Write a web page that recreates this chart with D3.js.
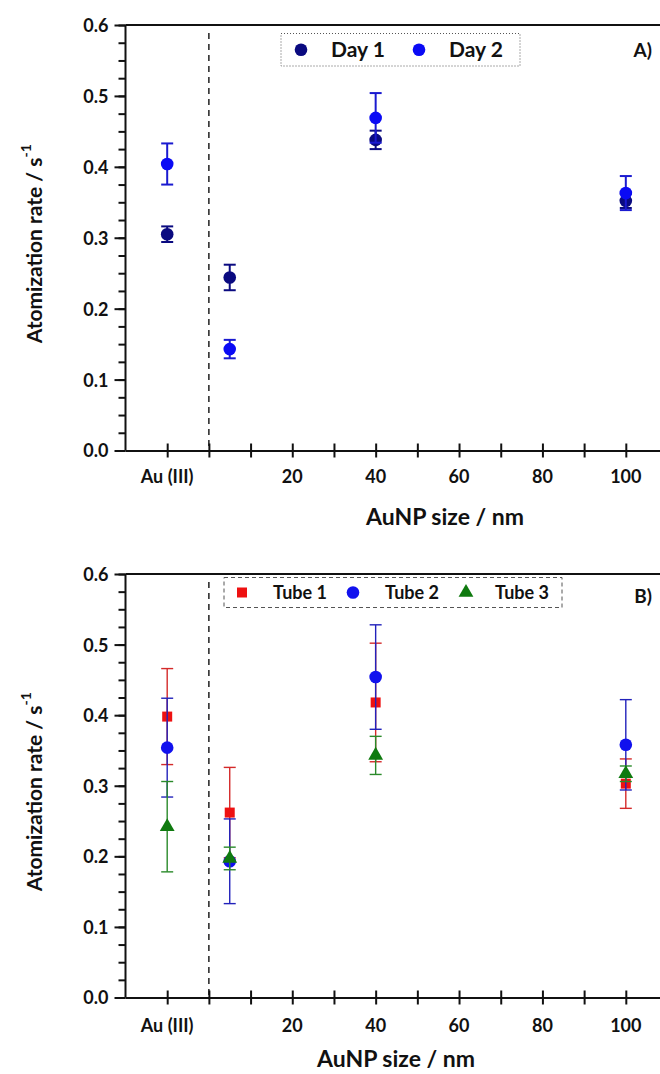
<!DOCTYPE html>
<html>
<head>
<meta charset="utf-8">
<script src="https://cdn.jsdelivr.net/npm/d3@7"></script>
<style>
  body { margin: 0; background: #fff; }
  svg text { font-family: Lato, "Open Sans", sans-serif; font-weight: bold; fill: #111; }
</style>
</head>
<body>
<svg id="chart" width="660" height="1074"></svg>
<script>
// x positions of the samples (Au (III) sits on the -10 slot left of the dashed line)
const sampleX = [-10, 5, 40, 100];

// Panel A: two days
const day1Rate = [0.305, 0.244, 0.438, 0.352];
const day1Err = [0.011, 0.018, 0.013, 0.010];
const day2Rate = [0.404, 0.143, 0.469, 0.363];
const day2Err = [0.029, 0.013, 0.035, 0.024];

// Panel B: three tubes
const tube1Rate = [0.398, 0.262, 0.418, 0.303];
const tube1Err = [0.068, 0.064, 0.084, 0.035];
const tube2Rate = [0.354, 0.193, 0.454, 0.358];
const tube2Err = [0.070, 0.060, 0.074, 0.064];
const tube3Rate = [0.242, 0.197, 0.343, 0.317];
const tube3Err = [0.064, 0.016, 0.027, 0.011];

// axis ticks
const xTickValues = [-10, 20, 40, 60, 80, 100];
const xTickLabels = ["Au (III)", "20", "40", "60", "80", "100"];
const yTickValues = [0, 0.1, 0.2, 0.3, 0.4, 0.5, 0.6];

const svg = d3.select("#chart");

const xScale = d3.scaleLinear()
    .domain([-20, 110])
    .range([125.5, 667.5]);

function drawPanel(opts) {
    const g = svg.append("g");
    const yScale = d3.scaleLinear()
        .domain([0, 0.6])
        .range([opts.bottom, opts.top]);

    // y axis with major and minor ticks
    g.append("g")
        .attr("transform", "translate(" + xScale(-20) + ",0)")
        .call(d3.axisLeft(yScale).tickValues(d3.range(0, 0.6001, 0.025)).tickSize(7).tickFormat(""))
        .call(a => a.select(".domain").remove())
        .selectAll("line").attr("stroke", "#111").attr("stroke-width", 2);

    const yAxis = g.append("g")
        .attr("transform", "translate(" + xScale(-20) + ",0)")
        .call(d3.axisLeft(yScale).tickValues(yTickValues).tickSize(11).tickPadding(6).tickFormat(d3.format(".1f")));
    yAxis.select(".domain").attr("stroke", "#111").attr("stroke-width", 2).attr("d",
        "M0," + opts.bottom + "V" + opts.top);
    yAxis.selectAll("line").attr("stroke", "#111").attr("stroke-width", 2);
    yAxis.selectAll("text").style("font-size", "18px").attr("dy", "0.36em");

    // top frame line
    g.append("line")
        .attr("x1", xScale(-20)).attr("x2", 660)
        .attr("y1", yScale(0.6)).attr("y2", yScale(0.6))
        .attr("stroke", "#111").attr("stroke-width", 2);

    // x axis, ticks crossing the line
    const xAxis = g.append("g")
        .attr("transform", "translate(0," + yScale(0) + ")")
        .call(d3.axisBottom(xScale).tickValues(d3.range(-10, 111, 10)).tickSize(0).tickFormat(""));
    xAxis.select(".domain").attr("stroke", "#111").attr("stroke-width", 2);
    xAxis.selectAll(".tick").append("line")
        .attr("y1", -7).attr("y2", 7)
        .attr("stroke", "#111").attr("stroke-width", 2);

    g.selectAll(".xlab")
        .data(xTickValues)
        .enter().append("text")
        .attr("class", "xlab")
        .attr("x", d => xScale(d))
        .attr("y", yScale(0) + opts.labelDy)
        .attr("text-anchor", "middle")
        .style("font-size", "18px")
        .text((d, i) => xTickLabels[i]);

    // dashed separator between Au (III) and the nanoparticles
    g.append("line")
        .attr("x1", xScale(0)).attr("x2", xScale(0))
        .attr("y1", opts.top + 8).attr("y2", yScale(0))
        .attr("stroke", "#111").attr("stroke-width", 1.4)
        .attr("stroke-dasharray", "6,5");

    // axis titles
    g.append("text")
        .attr("x", opts.xTitleX)
        .attr("y", opts.bottom + opts.xTitleDy)
        .attr("text-anchor", "middle")
        .style("font-size", "23px")
        .text("AuNP size / nm");

    const yTitle = g.append("text")
        .attr("transform", "translate(42," + ((opts.top + opts.bottom) / 2 + 6) + ") rotate(-90)")
        .attr("text-anchor", "middle")
        .style("font-size", "21px");
    yTitle.append("tspan").text("Atomization rate / s");
    yTitle.append("tspan").attr("dy", -11).style("font-size", "14px").text("-1");

    // panel letter
    g.append("text")
        .attr("x", 652)
        .attr("y", opts.top + opts.letterDy)
        .attr("text-anchor", "end")
        .style("font-size", "19px")
        .text(opts.letter);

    // series: error bars then markers
    opts.series.forEach(s => {
        const pts = sampleX.map((x, i) => ({ x: x, y: s.values[i], e: s.errors[i] }));
        const sg = g.append("g");
        const bars = sg.selectAll(".err")
            .data(pts)
            .enter().append("g")
            .attr("stroke", s.barColor)
            .attr("stroke-width", s.barWidth);
        bars.append("line")
            .attr("x1", d => xScale(d.x)).attr("x2", d => xScale(d.x))
            .attr("y1", d => yScale(d.y - d.e)).attr("y2", d => yScale(d.y + d.e));
        [-1, 1].forEach(sign => {
            bars.append("line")
                .attr("x1", d => xScale(d.x) - 6).attr("x2", d => xScale(d.x) + 6)
                .attr("y1", d => yScale(d.y + sign * d.e)).attr("y2", d => yScale(d.y + sign * d.e));
        });
        sg.selectAll(".mark")
            .data(pts)
            .enter().append("path")
            .attr("transform", d => "translate(" + xScale(d.x) + "," + yScale(d.y) + ")")
            .attr("d", d3.symbol().type(s.symbol).size(s.size))
            .attr("fill", s.color);
    });

    // legend
    const leg = g.append("g");
    leg.append("rect")
        .attr("x", opts.legend.x).attr("y", opts.legend.y)
        .attr("width", opts.legend.w).attr("height", opts.legend.h)
        .attr("fill", "none").attr("stroke", "#555").attr("stroke-width", 1)
        .attr("stroke-dasharray", opts.legend.dash);
    opts.series.forEach((s, i) => {
        const cy = opts.legend.y + opts.legend.h / 2;
        leg.append("path")
            .attr("transform", "translate(" + opts.legend.markX[i] + "," + cy + ")")
            .attr("d", d3.symbol().type(s.symbol).size(s.size))
            .attr("fill", s.color);
        leg.append("text")
            .attr("x", opts.legend.textX[i])
            .attr("y", cy + opts.legend.fontSize * 0.35)
            .style("font-size", opts.legend.fontSize + "px")
            .text(s.name);
    });
}

// Panel A
drawPanel({
    top: 25, bottom: 450.5, letter: "A)", letterDy: 32, labelDy: 32, xTitleX: 445, xTitleDy: 74,
    legend: { x: 281, y: 33.5, w: 239, h: 32.5, dash: "1,2", fontSize: 21, markX: [301, 419], textX: [331, 449] },
    series: [
        { name: "Day 1", values: day1Rate, errors: day1Err, color: "#0a0a80", barColor: "#0a0a80", barWidth: 2, symbol: d3.symbolCircle, size: 125 },
        { name: "Day 2", values: day2Rate, errors: day2Err, color: "#0a0af5", barColor: "#1a1ad0", barWidth: 2, symbol: d3.symbolCircle, size: 125 }
    ]
});

// Panel B
drawPanel({
    top: 574, bottom: 997.5, letter: "B)", letterDy: 29, labelDy: 34, xTitleX: 396, xTitleDy: 69,
    legend: { x: 224, y: 577.5, w: 338, h: 30, dash: "4,3", fontSize: 18, markX: [242, 353, 466], textX: [273, 385, 495] },
    series: [
        { name: "Tube 1", values: tube1Rate, errors: tube1Err, color: "#ee1111", barColor: "#d42a2a", barWidth: 1.4, symbol: d3.symbolSquare, size: 100 },
        { name: "Tube 2", values: tube2Rate, errors: tube2Err, color: "#1111ee", barColor: "#2222bb", barWidth: 1.4, symbol: d3.symbolCircle, size: 125 },
        { name: "Tube 3", values: tube3Rate, errors: tube3Err, color: "#0f7a0f", barColor: "#2a8a2a", barWidth: 1.4, symbol: d3.symbolTriangle, size: 95 }
    ]
});
</script>
</body>
</html>
